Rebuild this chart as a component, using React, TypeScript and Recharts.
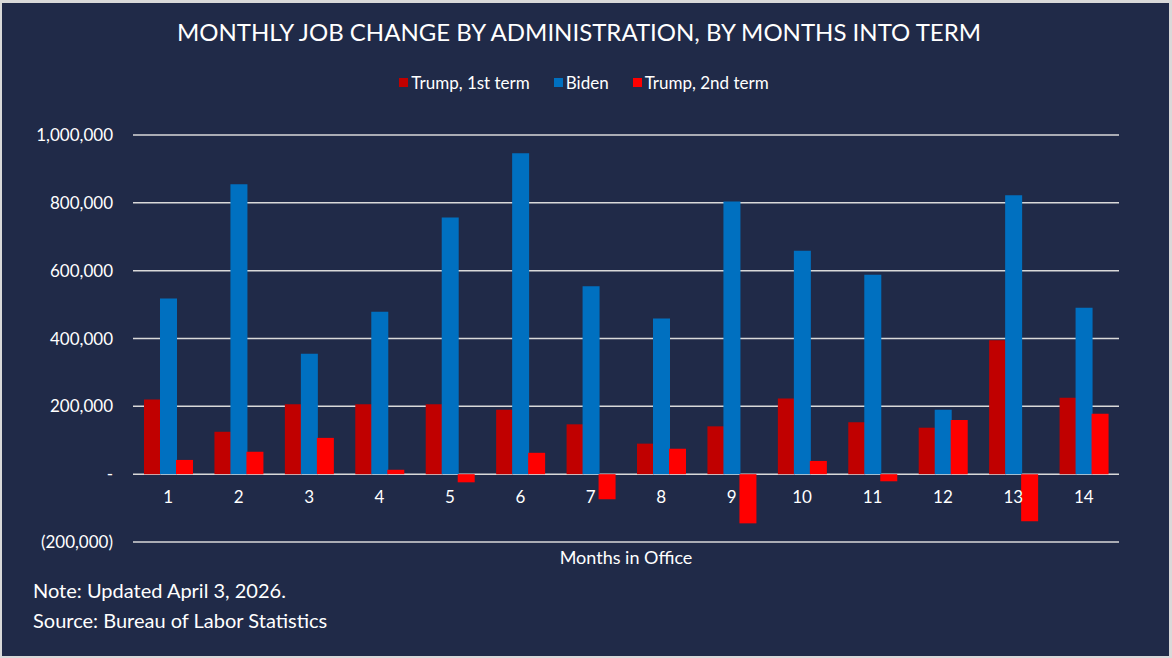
import React from "react";
import { BarChart, Bar, XAxis, YAxis, CartesianGrid } from "recharts";

const months = ["1", "2", "3", "4", "5", "6", "7", "8", "9", "10", "11", "12", "13", "14"];
const trumpFirst = [220000, 125000, 206000, 206000, 206000, 190000, 147000, 90000, 141000, 223000, 153000, 137000, 395000, 225000];
const biden = [518000, 855000, 355000, 479000, 757000, 946000, 554000, 459000, 804000, 659000, 588000, 190000, 822000, 491000];
const trumpSecond = [42000, 66000, 107000, 13000, -24000, 63000, -74000, 75000, -145000, 39000, -21000, 160000, -139000, 178000];
const yTicks = [-200000, 0, 200000, 400000, 600000, 800000, 1000000];

const series = [
  { key: "trumpFirst", name: "Trump, 1st term", color: "#C00000" },
  { key: "biden", name: "Biden", color: "#0070C0" },
  { key: "trumpSecond", name: "Trump, 2nd term", color: "#FF0000" },
];

const data = months.map((m, i) => ({
  month: m,
  trumpFirst: trumpFirst[i],
  biden: biden[i],
  trumpSecond: trumpSecond[i],
}));

const W = 1172;
const H = 658;
const FONT = "Lato, 'Open Sans', sans-serif";
const PLOT_TOP = 135;
const PLOT_BOTTOM = 542;
const X_AXIS_H = 20;
const Y_MIN = yTicks[0];
const Y_MAX = yTicks[yTicks.length - 1];
// distance from the bottom of the plot up to the zero line
const zeroLift = ((PLOT_BOTTOM - PLOT_TOP) * (0 - Y_MIN)) / (Y_MAX - Y_MIN);

function fmtY(v: number) {
  if (v === 0) return "-  ";
  const s = Math.abs(v).toLocaleString("en-US");
  return v < 0 ? `(${s})` : s;
}

// Excel puts the category labels next to the zero line, not at the bottom
function MonthTick(props: any) {
  const { x, y, payload } = props;
  return (
    <text x={x} y={y - zeroLift + 29} textAnchor="middle" fill="#FFFFFF" fontSize={17} fontFamily={FONT}>
      {payload.value}
    </text>
  );
}

export default function App() {
  return (
    <div style={{ position: "relative", width: W, height: H, background: "#D9D9D9", fontFamily: FONT }}>
      <style>{`body{margin:0}`}</style>
      <div style={{ position: "absolute", left: 2, top: 3, width: 1167, height: 653, background: "#202A48" }} />
      <div
        style={{
          position: "absolute",
          top: 17,
          left: 0,
          width: W - 14,
          textAlign: "center",
          color: "#FFFFFF",
          fontSize: 24,
        }}
      >
        MONTHLY JOB CHANGE BY ADMINISTRATION, BY MONTHS INTO TERM
      </div>
      <div
        style={{
          position: "absolute",
          top: 72,
          left: 0,
          width: W - 4,
          display: "flex",
          justifyContent: "center",
          gap: 24,
          color: "#FFFFFF",
          fontSize: 17,
        }}
      >
        {series.map((s) => (
          <div key={s.key} style={{ display: "flex", alignItems: "center", gap: 3 }}>
            <span style={{ width: 9, height: 9, background: s.color, display: "inline-block" }} />
            <span>{s.name}</span>
          </div>
        ))}
      </div>
      <div style={{ position: "absolute", left: 0, top: 0 }}>
        <BarChart
          width={W}
          height={H}
          data={data}
          margin={{ top: PLOT_TOP, right: W - 1119, bottom: H - PLOT_BOTTOM - X_AXIS_H, left: 0 }}
          barSize={17}
          barGap={-1}
        >
          <CartesianGrid horizontal vertical={false} stroke="#D9D9D9" strokeWidth={1.5} />
          <XAxis
            dataKey="month"
            axisLine={false}
            tickLine={false}
            tickSize={0}
            tickMargin={0}
            interval={0}
            tick={(p: any) => <MonthTick {...p} />}
            height={X_AXIS_H}
          />
          <YAxis
            domain={[Y_MIN, Y_MAX]}
            ticks={yTicks}
            interval={0}
            width={133}
            axisLine={false}
            tickLine={false}
            tickSize={0}
            tickMargin={20}
            tickFormatter={fmtY}
            tick={{ fill: "#FFFFFF", fontSize: 17, fontFamily: FONT }}
          />
          {series.map((s) => (
            <Bar key={s.key} dataKey={s.key} name={s.name} fill={s.color} isAnimationActive={false} />
          ))}
        </BarChart>
      </div>
      <div style={{ position: "absolute", top: 546, left: 133, width: 986, textAlign: "center", color: "#FFFFFF", fontSize: 18 }}>
        Months in Office
      </div>
      <div style={{ position: "absolute", top: 575, left: 33, color: "#FFFFFF", fontSize: 20, lineHeight: "30px" }}>
        <div>Note: Updated April 3, 2026.</div>
        <div>Source: Bureau of Labor Statistics</div>
      </div>
    </div>
  );
}
